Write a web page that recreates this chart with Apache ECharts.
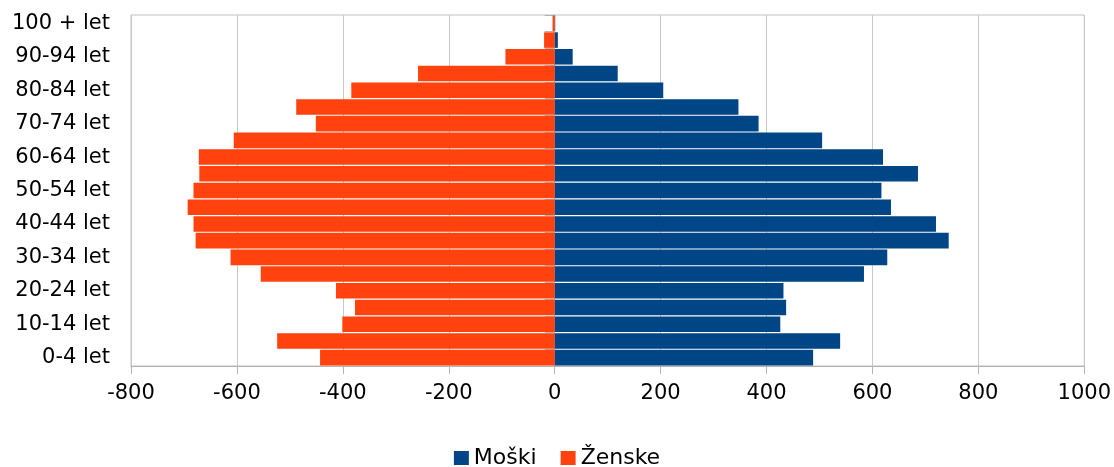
<!DOCTYPE html>
<html>
<head>
<meta charset="utf-8">
<script src="https://cdn.jsdelivr.net/npm/echarts@6/dist/echarts.min.js"></script>
<style>html,body{margin:0;padding:0;background:#fff}#c{width:1114px;height:467px}</style>
</head>
<body>
<div id="c"></div>
<script>
const categories = ['0-4 let','5-9 let','10-14 let','15-19 let','20-24 let','25-29 let','30-34 let','35-39 let','40-44 let','45-49 let','50-54 let','55-59 let','60-64 let','65-69 let','70-74 let','75-79 let','80-84 let','85-89 let','90-94 let','95-99 let','100 + let'];
const moski = [488, 539, 426, 437, 432, 584, 628, 744, 720, 635, 617, 686, 620, 505, 385, 347, 205, 119, 34, 6, 1];
const zenske = [-443, -524, -401, -377, -413, -555, -612, -678, -682, -693, -682, -671, -672, -606, -451, -488, -384, -258, -93, -20, -4];
const xTicks = {min: -800, max: 1000, interval: 200};

const chart = echarts.init(document.getElementById('c'));
const font = '"DejaVu Sans", "Liberation Sans", sans-serif';
chart.setOption({
  animation: false,
  textStyle: {fontFamily: font},
  grid: {left: 131, right: 29, top: 15, bottom: 101, show: true, borderColor: '#c0c0c0', borderWidth: 1},
  legend: {
    data: ['Moški', 'Ženske'], top: 446, left: 'center', padding: 0,
    itemWidth: 15, itemHeight: 14, itemGap: 24,
    textStyle: {fontSize: 22, color: '#000', fontFamily: font, lineHeight: 24},
    icon: 'rect'
  },
  xAxis: {
    type: 'value', min: xTicks.min, max: xTicks.max, interval: xTicks.interval,
    axisLine: {show: true, lineStyle: {color: '#b3b3b3'}},
    axisTick: {show: true, length: 8, lineStyle: {color: '#b3b3b3'}},
    splitLine: {show: true, lineStyle: {color: '#c8c8c8'}},
    axisLabel: {fontSize: 21, color: '#000', margin: 17, fontFamily: font, formatter: v => String(v)}
  },
  yAxis: {
    type: 'category', data: categories,
    axisLine: {show: true, lineStyle: {color: '#b3b3b3'}},
    axisTick: {show: true, interval: 0, length: 10, lineStyle: {color: '#b3b3b3'}},
    axisLabel: {interval: 1, fontSize: 21, color: '#000', margin: 21, fontFamily: font},
    splitLine: {show: false}
  },
  series: [
    {name: 'Moški', type: 'bar', stack: 'p', data: moski, barCategoryGap: '7%', itemStyle: {color: '#004586'}},
    {name: 'Ženske', type: 'bar', stack: 'p', data: zenske, barCategoryGap: '7%', itemStyle: {color: '#ff420e'}}
  ]
});
</script>
</body>
</html>
